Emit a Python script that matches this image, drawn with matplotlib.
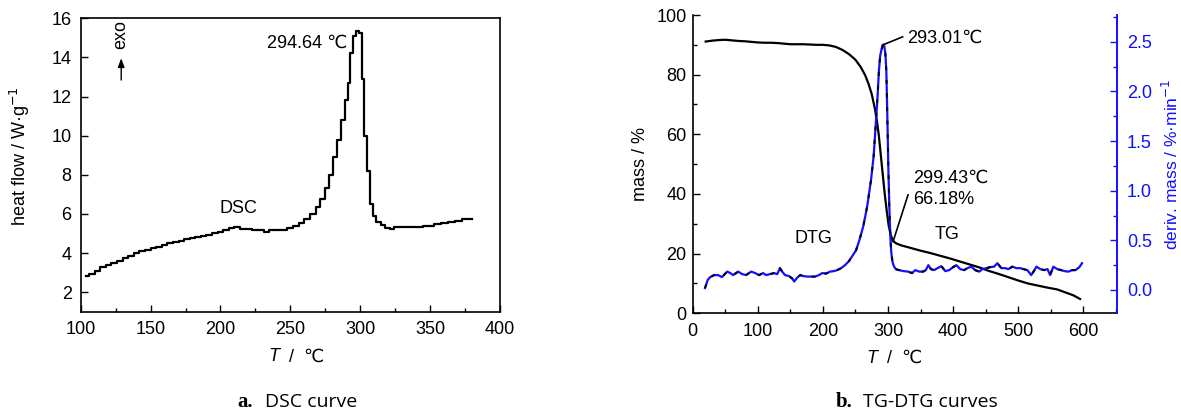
import matplotlib
matplotlib.use('Agg')
from matplotlib import pyplot
from matplotlib.ticker import MultipleLocator, FormatStrFormatter

# ---- data ----
dsc_t = [104, 108, 112, 116, 120, 124, 128, 132, 136, 140, 144, 148, 152, 156,
         160, 164, 168, 172, 176, 180, 184, 188, 192, 196, 200, 204, 208, 212,
         216, 220, 225, 230, 233, 236, 240, 245, 250, 254, 258, 262, 266, 270,
         273, 276, 279, 282, 285, 288, 290, 292, 294, 296, 298, 300, 302, 304,
         306, 308, 310, 313, 316, 320, 323, 326, 330, 340, 350, 355, 360, 365,
         370, 375, 380]
dsc_hf = [2.85, 2.95, 3.1, 3.3, 3.4, 3.5, 3.6, 3.72, 3.85, 4.0, 4.08, 4.16, 4.24, 4.32,
          4.42, 4.5, 4.56, 4.62, 4.7, 4.76, 4.82, 4.88, 4.94, 5.02, 5.1, 5.18, 5.26, 5.35,
          5.25, 5.22, 5.2, 5.2, 5.1, 5.2, 5.2, 5.2, 5.3, 5.4, 5.55, 5.75, 6.0, 6.35,
          6.75, 7.3, 8.0, 8.9, 9.8, 10.8, 11.8, 12.7, 14.2, 15.1, 15.35, 15.25, 12.9, 10.0,
          8.2, 6.5, 5.9, 5.6, 5.45, 5.3, 5.22, 5.32, 5.35, 5.35, 5.38, 5.48, 5.55, 5.6,
          5.65, 5.72, 5.72]

tg_t = [20, 30, 40, 50, 60, 70, 80, 90, 100, 110, 120, 130, 140, 150, 160, 170, 180,
        190, 200, 210, 220, 230, 240, 250, 258, 265, 270, 275, 280, 283, 286, 289, 292,
        295, 298, 301, 304, 307, 312, 320, 335, 350, 365, 380, 395, 410, 425, 440, 455,
        470, 485, 500, 515, 530, 545, 560, 575, 585, 595]
tg_mass = [91.1, 91.4, 91.6, 91.7, 91.5, 91.3, 91.2, 91.0, 90.8, 90.7, 90.7, 90.6, 90.4,
           90.2, 90.2, 90.2, 90.1, 90.0, 90.0, 89.8, 89.3, 88.3, 86.9, 85.0, 82.6, 79.8,
           77.0, 73.5, 68.5, 64.5, 59.5, 53.0, 46.5, 40.0, 34.5, 29.5, 26.5, 24.5, 23.5,
           22.8, 21.9, 21.0, 20.2, 19.3, 18.4, 17.4, 16.4, 15.4, 14.2, 13.2, 12.1, 11.0,
           10.0, 9.3, 8.6, 8.0, 6.8, 6.0, 4.8]

dtg_t = [19, 23, 27, 33, 39, 45, 53, 58, 62, 70, 76, 82, 90, 96, 102, 108, 113, 119,
         125, 130, 134, 138, 142, 148, 153, 156, 160, 165, 170, 176, 182, 188, 194, 199,
         205, 211, 217, 222, 228, 234, 240, 245, 251, 256, 262, 268, 274, 278, 281, 284,
         286, 288, 290, 292, 294, 296, 297.5, 299, 300.5, 302, 303.5, 305, 307, 309, 312,
         317, 324, 331, 337, 342, 348, 354, 358, 362, 366, 371, 376, 382, 388, 394, 400,
         405, 411, 417, 422, 428, 434, 440, 445, 451, 457, 463, 468, 474, 480, 485, 491,
         497, 503, 508, 514, 520, 525, 528, 534, 540, 545, 549, 554, 560, 566, 571, 577,
         583, 588, 594, 598]
dtg_rate = [0.02, 0.10, 0.13, 0.15, 0.15, 0.13, 0.185, 0.17, 0.15, 0.185, 0.16, 0.15,
            0.185, 0.17, 0.15, 0.17, 0.15, 0.16, 0.17, 0.16, 0.22, 0.18, 0.15, 0.14, 0.115,
            0.085, 0.12, 0.15, 0.14, 0.135, 0.135, 0.135, 0.15, 0.17, 0.165, 0.185, 0.19,
            0.20, 0.22, 0.25, 0.29, 0.34, 0.40, 0.50, 0.64, 0.84, 1.11, 1.35, 1.65, 1.95,
            2.20, 2.36, 2.42, 2.47, 2.47, 2.38, 2.20, 1.75, 1.25, 0.85, 0.55, 0.38, 0.28,
            0.24, 0.21, 0.20, 0.19, 0.185, 0.17, 0.20, 0.185, 0.185, 0.20, 0.25, 0.21, 0.20,
            0.22, 0.24, 0.19, 0.20, 0.23, 0.25, 0.21, 0.20, 0.22, 0.235, 0.20, 0.185, 0.21,
            0.22, 0.23, 0.235, 0.27, 0.22, 0.22, 0.21, 0.235, 0.22, 0.22, 0.21, 0.20, 0.15,
            0.20, 0.235, 0.21, 0.20, 0.21, 0.15, 0.235, 0.21, 0.20, 0.19, 0.185, 0.20, 0.20,
            0.23, 0.27]

FS = 13
BLUE = '#1010ff'

pyplot.rcParams['font.family'] = ['Liberation Sans', 'DejaVu Sans']
pyplot.rcParams['font.size'] = FS


def style_ticks(ax, pad):
    ax.tick_params(direction='in', length=5, width=1, pad=pad, labelsize=FS)
    ax.tick_params(which='minor', direction='in', length=3, width=1)


def t_label(ax, x, y):
    t = ax.text(x, y, 'T', style='italic', transform=ax.transAxes, ha='right', va='top', fontsize=FS)
    ax.annotate('  /  \u2103', xy=(1, 0), xycoords=t, ha='left', va='bottom', fontsize=FS)


fig = pyplot.figure(figsize=(11.81, 4.11), dpi=100)

# ---- a. DSC ----
ax = fig.add_axes([0.0683, 0.2416, 0.3551, 0.7139])
ax.plot(dsc_t, dsc_hf, color='black', lw=1.6, drawstyle='steps-mid')
ax.set_xlim(100, 400)
ax.set_ylim(1, 16)
ax.xaxis.set_major_locator(MultipleLocator(50))
ax.xaxis.set_minor_locator(MultipleLocator(25))
ax.yaxis.set_major_locator(MultipleLocator(2))
style_ticks(ax, 6.5)
ax.tick_params(axis='x', pad=7)
for s in ax.spines.values():
    s.set_linewidth(1.2)
ax.set_ylabel('heat flow / W\u00b7g$^{-1}$', fontsize=FS)
ax.yaxis.set_label_coords(-0.115, 0.53)
t_label(ax, 0.473, -0.125)

ax.text(262, 14.7, '294.64 \u2103', ha='center', va='center', fontsize=FS)
ax.text(213, 6.27, 'DSC', ha='center', va='center', fontsize=FS)
ax.annotate('', xy=(129, 14.1), xytext=(129, 12.7),
            arrowprops=dict(arrowstyle='-|>,head_length=0.4,head_width=0.15', color='black', lw=1))
ax.text(129, 15.15, 'exo', rotation=90, ha='center', va='center', fontsize=FS)

# ---- b. TG-DTG ----
bx = fig.add_axes([0.5865, 0.2377, 0.3589, 0.7258])
bx.plot(tg_t, tg_mass, color='black', lw=1.6)
bx.set_xlim(0, 651)
bx.set_ylim(0, 100)
bx.xaxis.set_major_locator(MultipleLocator(100))
bx.xaxis.set_minor_locator(MultipleLocator(50))
bx.yaxis.set_major_locator(MultipleLocator(20))
bx.yaxis.set_minor_locator(MultipleLocator(10))
style_ticks(bx, 4.5)
bx.tick_params(axis='x', pad=7)
bx.spines['top'].set_visible(False)
bx.spines['right'].set_visible(False)
for s in ['left', 'bottom']:
    bx.spines[s].set_linewidth(1.2)
bx.set_ylabel('mass / %', fontsize=FS)
bx.yaxis.set_label_coords(-0.102, 0.5)
t_label(bx, 0.435, -0.122)

bx2 = bx.twinx()
bx2.plot(dtg_t, dtg_rate, color=BLUE, lw=1.6)
bx2.plot(dtg_t, dtg_rate, color='black', lw=1.4, ls=(0, (2, 5)))
bx2.set_ylim(-0.235, 2.77)
bx2.yaxis.set_major_locator(MultipleLocator(0.5))
bx2.yaxis.set_minor_locator(MultipleLocator(0.25))
bx2.yaxis.set_major_formatter(FormatStrFormatter('%.1f'))
style_ticks(bx2, 7.5)
bx2.tick_params(axis='y', which='both', colors=BLUE)
for s in ['top', 'left', 'bottom']:
    bx2.spines[s].set_visible(False)
bx2.spines['right'].set_color(BLUE)
bx2.spines['right'].set_linewidth(1.4)
bx2.set_ylabel('deriv. mass / %\u00b7min$^{-1}$', color=BLUE, fontsize=12.5)
bx2.yaxis.set_label_coords(1.105, 0.5)

bx2.plot([292.5, 322.5], [2.47, 2.55], color='black', lw=1.2)
bx2.text(330, 2.54, '293.01\u2103', ha='left', va='center', fontsize=FS)
bx.plot([330.8, 307.7], [39.7, 24.0], color='black', lw=1.2)
bx.text(338, 45.4, '299.43\u2103', ha='left', va='center', fontsize=FS)
bx.text(338, 38.0, '66.18%', ha='left', va='center', fontsize=FS)
bx.text(185, 25.0, 'DTG', ha='center', va='center', fontsize=FS)
bx.text(390, 26.3, 'TG', ha='center', va='center', fontsize=FS)

# ---- captions ----
by = 1 - 406.7 / 411
fig.text(253 / 1181, by, 'a.', family='Liberation Serif', weight='bold', fontsize=15, ha='right', va='baseline')
fig.text(265 / 1181, by, 'DSC curve', family='Open Sans', fontsize=14, ha='left', va='baseline')
fig.text(852 / 1181, by, 'b.', family='Liberation Serif', weight='bold', fontsize=15, ha='right', va='baseline')
fig.text(863 / 1181, by, 'TG-DTG curves', family='Open Sans', fontsize=14, ha='left', va='baseline')

fig.savefig('out.png', dpi=100)
pyplot.close()
